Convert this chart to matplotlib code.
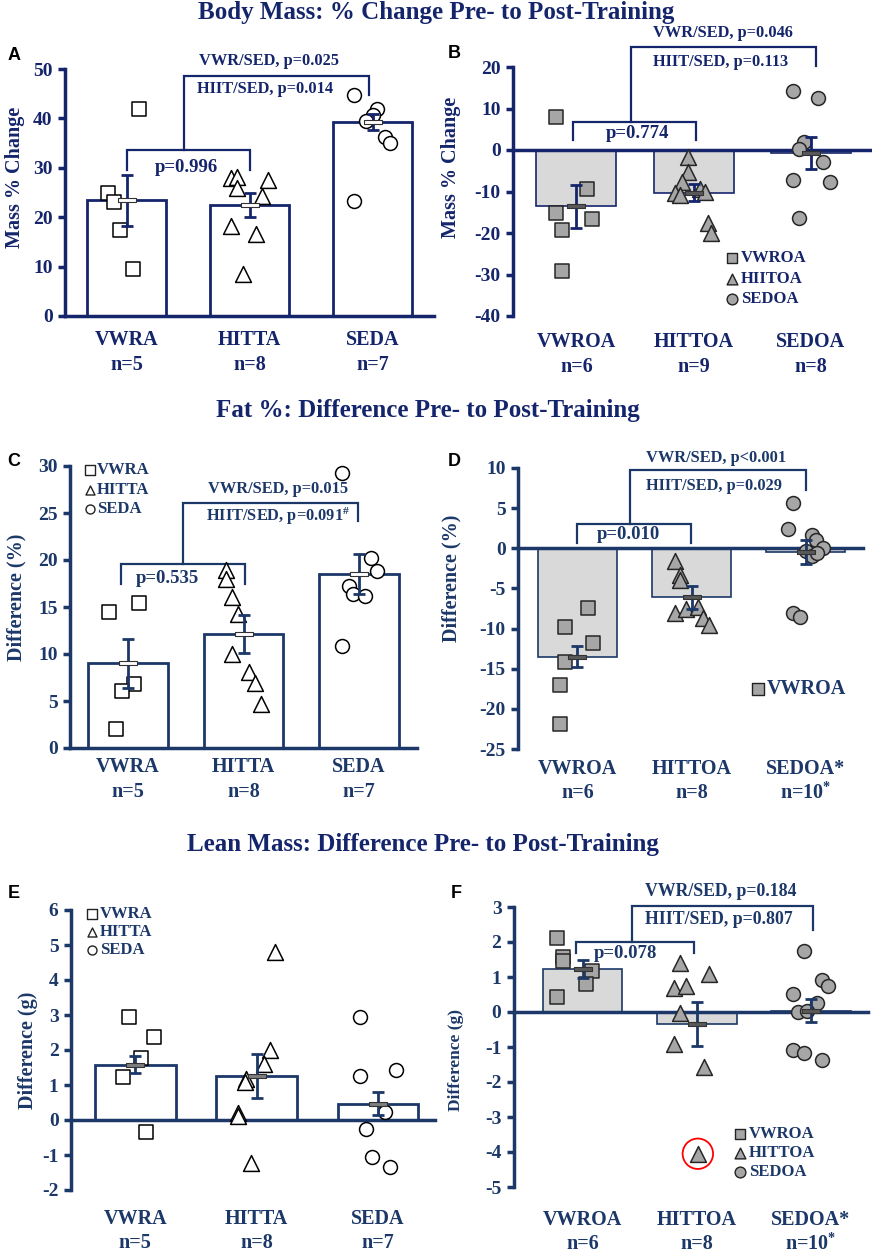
import numpy as np
import matplotlib.pyplot as plt
from matplotlib.path import Path

plt.rcParams['font.family'] = 'Liberation Serif'
plt.rcParams['font.weight'] = 'bold'
plt.rcParams['axes.unicode_minus'] = False
plt.rcParams['mathtext.fontset'] = 'custom'
plt.rcParams['mathtext.rm'] = 'Liberation Serif:bold'
plt.rcParams['mathtext.it'] = 'Liberation Serif:bold'
plt.rcParams['mathtext.bf'] = 'Liberation Serif:bold'

W, H = 872, 1253
NAVY = '#15256c'
NAVY2 = '#1c3868'
GREY = '#a6a6a6'
BARGREY = '#d9d9d9'
markers = ['s', '^', 'o']

# ---- data ----
# A: body mass % change, adults
a_groups = ['VWRA', 'HITTA', 'SEDA']
a_n = ['n=5', 'n=8', 'n=7']
a_mean = [23.4, 22.5, 39.3]
a_sem = [5.2, 2.5, 1.6]
a_pts = [[41.9, 24.8, 23.0, 17.4, 9.5],
         [27.9, 28.2, 26.0, 27.5, 24.3, 18.2, 16.7, 8.5],
         [44.8, 42.0, 40.7, 39.5, 36.3, 35.1, 23.3]]
a_jit = [[0.10, -0.15, -0.10, -0.05, 0.05],
         [-0.15, -0.10, -0.10, 0.15, 0.10, -0.15, 0.05, -0.05],
         [-0.15, 0.04, 0.0, -0.05, 0.10, 0.14, -0.15]]

# B: body mass % change, old adults
b_groups = ['VWROA', 'HITTOA', 'SEDOA']
b_n = ['n=6', 'n=9', 'n=8']
b_mean = [-13.6, -10.3, -0.7]
b_sem = [5.2, 2.1, 3.8]
b_pts = [[7.9, -9.5, -15.3, -19.3, -16.6, -29.1],
         [-1.8, -5.2, -7.6, -10.4, -10.8, -9.5, -10.0, -17.7, -20.1],
         [14.1, 12.6, 2.0, 0.2, -3.0, -7.2, -7.6, -16.5]]
b_jit = [[-0.17, 0.09, -0.17, -0.12, 0.13, -0.12],
         [-0.05, -0.05, -0.10, -0.16, -0.12, 0.05, 0.10, 0.12, 0.15],
         [-0.15, 0.06, -0.06, -0.10, 0.10, -0.15, 0.16, -0.10]]

# C: fat % difference, adults
c_groups = ['VWRA', 'HITTA', 'SEDA']
c_n = ['n=5', 'n=8', 'n=7']
c_mean = [9.0, 12.1, 18.5]
c_sem = [2.6, 2.0, 2.1]
c_pts = [[14.5, 15.4, 6.8, 6.1, 2.0],
         [18.9, 18.0, 16.1, 14.3, 10.0, 8.1, 6.9, 4.65],
         [29.3, 20.2, 18.85, 17.25, 16.4, 16.15, 10.9]]
c_jit = [[-0.16, 0.10, 0.05, -0.05, -0.10],
         [-0.15, -0.15, -0.10, -0.05, -0.10, 0.05, 0.10, 0.15],
         [-0.15, 0.10, 0.15, -0.09, -0.05, 0.05, -0.15]]

# D: fat % difference, old adults
d_groups = ['VWROA', 'HITTOA', 'SEDOA*']
d_n = ['n=6', 'n=8', 'n=10$^{*}$']
d_mean = [-13.5, -6.1, -0.5]
d_sem = [1.3, 1.45, 1.5]
d_pts = [[-7.4, -9.8, -11.8, -14.2, -17.0, -21.9],
         [-1.6, -3.3, -3.9, -8.05, -7.6, -7.3, -8.7, -9.6],
         [5.7, 2.4, 1.6, 1.0, 0.0, -0.4, -1.0, -0.6, -8.05, -8.6]]
d_jit = [[0.09, -0.11, 0.14, -0.11, -0.15, -0.15],
         [-0.15, -0.10, -0.10, -0.15, -0.05, 0.06, 0.10, 0.15],
         [-0.11, -0.16, 0.05, 0.09, 0.15, 0.0, 0.05, 0.10, -0.11, -0.05]]

# E: lean mass difference, adults
e_groups = ['VWRA', 'HITTA', 'SEDA']
e_n = ['n=5', 'n=8', 'n=7']
e_mean = [1.58, 1.27, 0.47]
e_sem = [0.25, 0.63, 0.32]
e_pts = [[2.93, 2.36, 1.76, 1.22, -0.33],
         [4.81, 2.0, 1.59, 1.16, 1.1, 0.19, 0.12, -1.22],
         [2.93, 1.43, 1.27, 0.22, -0.27, -1.05, -1.35]]
e_jit = [[-0.05, 0.15, 0.05, -0.10, 0.09],
         [0.15, 0.11, 0.06, -0.09, -0.10, -0.15, -0.15, -0.05],
         [-0.15, 0.15, -0.15, 0.06, -0.10, -0.05, 0.10]]

# F: lean mass difference, old adults
f_groups = ['VWROA', 'HITTOA', 'SEDOA*']
f_n = ['n=6', 'n=8', 'n=10$^{*}$']
f_mean = [1.24, -0.33, 0.04]
f_sem = [0.26, 0.63, 0.33]
f_pts = [[2.11, 1.58, 1.46, 1.17, 0.80, 0.44],
         [1.39, 1.09, 0.68, 0.73, -0.04, -0.92, -1.57, -4.05],
         [1.73, 0.92, 0.75, 0.52, 0.25, 0.01, 0.04, -1.09, -1.16, -1.37]]
f_jit = [[-0.22, -0.17, -0.17, 0.08, 0.03, -0.22],
         [-0.15, 0.11, -0.20, -0.09, -0.15, -0.20, 0.06, 0.01],
         [-0.06, 0.10, 0.15, -0.16, 0.05, -0.11, -0.03, -0.16, -0.06, 0.10]]

MEAN_MARK = Path([(-1, -0.22), (1, -0.22), (1, 0.22), (-1, 0.22), (-1, -0.22)])

fig = plt.figure(figsize=(W / 100, H / 100), dpi=100)


def make_ax(x0, x1, ytop, ybot, xlim, ylim, yticks, color):
    ax = fig.add_axes([x0 / W, 1 - ybot / H, (x1 - x0) / W, (ybot - ytop) / H])
    ax.set_xlim(xlim)
    ax.set_ylim(ylim)
    ax.set_yticks(yticks)
    ax.patch.set_alpha(0)
    for s in ['top', 'right']:
        ax.spines[s].set_visible(False)
    ax.spines['left'].set_linewidth(2.5)
    ax.spines['bottom'].set_linewidth(2.5)
    ax.spines['left'].set_color(color)
    ax.spines['bottom'].set_color(color)
    ax.spines['bottom'].set_position(('data', 0))
    ax.spines['bottom'].set_zorder(2.5)
    ax.set_xticks([])
    ax.tick_params(axis='y', direction='out', length=5, width=2.5, colors=color,
                   labelsize=14, pad=4)
    for t in ax.get_yticklabels():
        t.set_fontweight('bold')
    return ax


def draw_groups(ax, means, sems, pts, jit, color, width, bar_face, pt_face,
                pt_edge, mean_face, bar_lw):
    x = np.arange(len(means))
    ax.bar(x, means, width=width, color=bar_face, edgecolor=color,
           linewidth=bar_lw, zorder=1)
    sizes = [90, 130, 100]
    for i, (vals, offs) in enumerate(zip(pts, jit)):
        ax.scatter(i + np.array(offs), vals, marker=markers[i], s=sizes[i],
                   facecolor=pt_face, edgecolor=pt_edge, linewidth=1.1,
                   zorder=3, clip_on=False)
    ax.errorbar(x, means, yerr=sems, fmt='none', ecolor=color, elinewidth=2,
                capsize=4, capthick=2, zorder=4)
    ax.plot(x, means, ls='none', marker=MEAN_MARK, ms=13, mfc=mean_face,
            mec='#333333', mew=0.8, zorder=5)


def bracket(ax, pts_xy, color):
    xs, ys = zip(*pts_xy)
    ax.plot(xs, ys, color=color, lw=1.6, clip_on=False, zorder=2,
            solid_joinstyle='miter')


def cats(ax, groups, ns, y1, y2, color):
    for i, (g, n) in enumerate(zip(groups, ns)):
        ax.annotate(g, (i, H - y1), xycoords=('data', 'figure pixels'),
                    ha='center', va='center', fontsize=14.5, color=color,
                    fontweight='bold', annotation_clip=False)
        ax.annotate(n, (i, H - y2), xycoords=('data', 'figure pixels'),
                    ha='center', va='center', fontsize=14.5, color=color,
                    fontweight='bold', annotation_clip=False)


def atext(ax, x, y, s, size, color):
    ax.text(x, y, s, ha='center', va='center', fontsize=size, color=color,
            fontweight='bold', clip_on=False, zorder=6)


# ---- panel A ----
axA = make_ax(65, 434, 69, 316, (-0.5, 2.5), (0, 50), range(0, 51, 10), NAVY)
draw_groups(axA, a_mean, a_sem, a_pts, a_jit, NAVY, 0.65, 'white', 'white',
            'black', 'white', 2.0)
bracket(axA, [(0, 29.5), (0, 33.6), (1, 33.6), (1, 29.5)], NAVY)
bracket(axA, [(0.47, 33.6), (0.47, 48.6), (1.97, 48.6), (1.97, 44.7)], NAVY)
atext(axA, 0.49, 30.0, 'p=0.996', 13.5, NAVY)
atext(axA, 1.16, 51.6, 'VWR/SED, p=0.025', 11.8, NAVY)
atext(axA, 1.13, 45.9, 'HIIT/SED, p=0.014', 11.8, NAVY)
cats(axA, a_groups, a_n, 340, 365, NAVY)

# ---- panel B ----
axB = make_ax(513, 872, 67, 316, (-0.54, 2.52), (-40, 20), range(-40, 21, 10), NAVY)
draw_groups(axB, b_mean, b_sem, b_pts, b_jit, NAVY, 0.68, BARGREY, GREY,
            '#262626', '#595959', 1.2)
bracket(axB, [(-0.03, 2.4), (-0.03, 6.8), (1.02, 6.8), (1.02, 2.4)], NAVY)
bracket(axB, [(0.47, 6.8), (0.47, 24.7), (2.04, 24.7), (2.04, 20.2)], NAVY)
atext(axB, 0.52, 4.0, 'p=0.774', 13.5, NAVY)
atext(axB, 1.25, 28.1, 'VWR/SED, p=0.046', 11.8, NAVY)
atext(axB, 1.23, 21.3, 'HIIT/SED, p=0.113', 11.8, NAVY)
cats(axB, b_groups, b_n, 342, 367, NAVY)

# ---- panel C ----
axC = make_ax(70, 417, 466, 748, (-0.5, 2.5), (0, 30), range(0, 31, 5), NAVY2)
draw_groups(axC, c_mean, c_sem, c_pts, c_jit, NAVY2, 0.69, 'white', 'white',
            'black', 'white', 2.0)
bracket(axC, [(-0.055, 17.4), (-0.055, 19.6), (1.01, 19.6), (1.01, 17.4)], NAVY2)
bracket(axC, [(0.48, 19.6), (0.48, 26.1), (1.99, 26.1), (1.99, 24.1)], NAVY2)
atext(axC, 0.34, 18.0, 'p=0.535', 13.5, NAVY2)
atext(axC, 1.30, 27.6, 'VWR/SED, p=0.015', 11.8, NAVY2)
atext(axC, 1.30, 24.6, 'HIIT/SED, p=0.091$^{\\#}$', 11.8, NAVY2)
cats(axC, c_groups, c_n, 767, 792, NAVY2)

# ---- panel D ----
axD = make_ax(518, 863, 468, 749, (-0.52, 2.5), (-25, 10), range(-25, 11, 5), NAVY2)
draw_groups(axD, d_mean, d_sem, d_pts, d_jit, NAVY2, 0.69, BARGREY, GREY,
            '#262626', '#595959', 1.2)
bracket(axD, [(0.0, 0.6), (0.0, 3.07), (0.99, 3.07), (0.99, 0.6)], NAVY2)
bracket(axD, [(0.46, 3.07), (0.46, 9.7), (2.0, 9.7), (2.0, 7.2)], NAVY2)
atext(axD, 0.45, 1.7, 'p=0.010', 13.5, NAVY2)
atext(axD, 1.21, 11.25, 'VWR/SED, p<0.001', 11.8, NAVY2)
atext(axD, 1.20, 7.7, 'HIIT/SED, p=0.029', 11.8, NAVY2)
cats(axD, d_groups, d_n, 769, 793, NAVY2)

# ---- panel E ----
axE = make_ax(71, 435, 910, 1190, (-0.53, 2.47), (-2, 6), range(-2, 7), NAVY2)
draw_groups(axE, e_mean, e_sem, e_pts, e_jit, NAVY2, 0.665, 'white', 'white',
            'black', '#7f7f7f', 2.0)
cats(axE, e_groups, e_n, 1219, 1243, NAVY2)

# ---- panel F ----
axF = make_ax(514, 868, 907, 1187, (-0.6, 2.5), (-5, 3), range(-5, 4), NAVY2)
draw_groups(axF, f_mean, f_sem, f_pts, f_jit, NAVY2, 0.70, BARGREY, GREY,
            '#262626', '#595959', 1.2)
bracket(axF, [(-0.06, 1.68), (-0.06, 1.99), (0.98, 1.99), (0.98, 1.68)], NAVY2)
bracket(axF, [(0.43, 1.99), (0.43, 3.04), (2.02, 3.04), (2.02, 2.33)], NAVY2)
atext(axF, 0.375, 1.68, 'p=0.078', 13.5, NAVY2)
atext(axF, 1.21, 3.45, 'VWR/SED, p=0.184', 12.8, NAVY2)
atext(axF, 1.19, 2.63, 'HIIT/SED, p=0.807', 12.8, NAVY2)
# outlier highlighted in the original
axF.scatter([1 + f_jit[1][7]], [f_pts[1][7]], marker='o', s=480,
            facecolor='none', edgecolor='red', linewidth=1.3, zorder=6)
cats(axF, f_groups, f_n, 1220, 1244, NAVY2)

# ---- overlay for titles, labels, legends (figure pixels) ----
ov = fig.add_axes([0, 0, 1, 1], zorder=10)
ov.set_xlim(0, W)
ov.set_ylim(H, 0)
ov.axis('off')
ov.patch.set_alpha(0)

for (x, y, s) in [(436, 13, 'Body Mass: % Change Pre- to Post-Training'),
                  (428, 410, 'Fat %: Difference Pre- to Post-Training'),
                  (423, 845, 'Lean Mass: Difference Pre- to Post-Training')]:
    ov.text(x, y, s, ha='center', va='center', fontsize=18, color=NAVY,
            fontweight='bold')

for (x, y, s) in [(14, 55, 'A'), (454, 53, 'B'), (14, 461, 'C'),
                  (454, 462, 'D'), (14, 893, 'E'), (456, 893, 'F')]:
    ov.text(x, y, s, ha='center', va='center', fontsize=13, color='black',
            fontweight='bold', family='Liberation Sans')

for (x, y, s, c, fs) in [(15, 177, 'Mass % Change', NAVY, 14.5),
                         (451, 167, 'Mass % Change', NAVY, 14.5),
                         (16, 597, 'Difference (%)', NAVY2, 14.5),
                         (451, 578, 'Difference (%)', NAVY2, 14.5),
                         (28, 1050, 'Difference (g)', NAVY2, 14.5),
                         (456, 1060, 'Difference (g)', NAVY2, 12.5)]:
    ov.text(x, y, s, ha='center', va='center', rotation=90, fontsize=fs,
            color=c, fontweight='bold')


def legend(x_m, x_t, ys, labels, face, size, fs, color):
    for i, (y, lab) in enumerate(zip(ys, labels)):
        ov.scatter([x_m], [y], marker=markers[i], s=size, facecolor=face,
                   edgecolor='#222222', linewidth=1.0)
        ov.text(x_t, y, lab, ha='left', va='center', fontsize=fs, color=color,
                fontweight='bold')


legend(732, 741, [258, 279, 299], ['VWROA', 'HIITOA', 'SEDOA'], GREY, 60, 12, NAVY)
legend(90, 97, [470, 490, 509], ['VWRA', 'HITTA', 'SEDA'], 'white', 42, 12, NAVY2)
ov.scatter([758], [689], marker='s', s=65, facecolor=GREY, edgecolor='#222222',
           linewidth=1.0)
ov.text(767, 689, 'VWROA', ha='left', va='center', fontsize=14.5, color=NAVY2,
        fontweight='bold')
legend(92, 100, [914, 932, 950], ['VWRA', 'HITTA', 'SEDA'], 'white', 42, 12, NAVY2)
legend(740, 749, [1134, 1153, 1172], ['VWROA', 'HITTOA', 'SEDOA'], GREY, 60, 12, NAVY2)

fig.savefig('out.png', dpi=100)
